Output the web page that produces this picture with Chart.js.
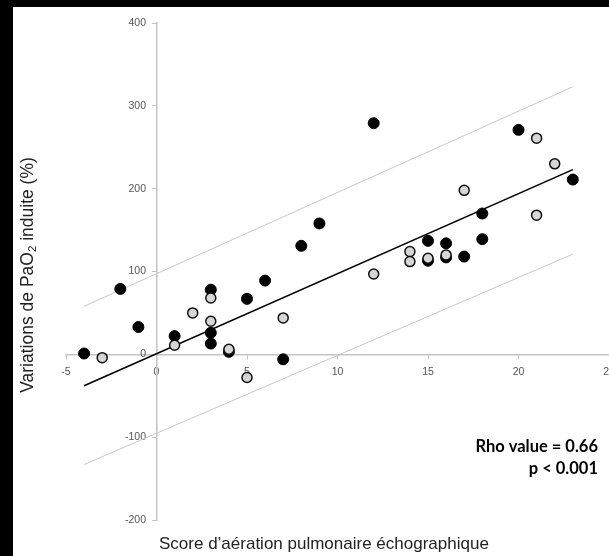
<!DOCTYPE html>
<html>
<head>
<meta charset="utf-8">
<script src="https://cdn.jsdelivr.net/npm/chart.js@4"></script>
<style>
  html, body { margin: 0; padding: 0; background: #000; overflow: hidden; }
  #wrap { position: absolute; left: 13px; top: 7px; width: 596px; height: 549px; background: #fff; }
</style>
</head>
<body>
<div id="wrap"><canvas id="chart" width="596" height="549"></canvas></div>
<script>
// filled (black) patients
const filledPoints = [
  { x: -4, y: 1 }, { x: -2, y: 79 }, { x: -1, y: 33 }, { x: 1, y: 22 },
  { x: 3, y: 78 }, { x: 3, y: 26 }, { x: 3, y: 13 }, { x: 4, y: 3 },
  { x: 5, y: 67 }, { x: 6, y: 89 }, { x: 7, y: -6 }, { x: 8, y: 131 },
  { x: 9, y: 158 }, { x: 12, y: 279 }, { x: 15, y: 137 }, { x: 15, y: 113 },
  { x: 16, y: 134 }, { x: 16, y: 117 }, { x: 17, y: 118 }, { x: 18, y: 170 },
  { x: 18, y: 139 }, { x: 20, y: 271 }, { x: 23, y: 211 },
];
// open (grey) patients
const openPoints = [
  { x: -3, y: -4 }, { x: 1, y: 11 }, { x: 2, y: 50 }, { x: 3, y: 68 },
  { x: 3, y: 40 }, { x: 4, y: 6 }, { x: 5, y: -28 }, { x: 7, y: 44 },
  { x: 12, y: 97 }, { x: 14, y: 124 }, { x: 14, y: 112 }, { x: 15, y: 116 },
  { x: 16, y: 120 }, { x: 17, y: 198 }, { x: 21, y: 261 }, { x: 21, y: 168 },
  { x: 22, y: 230 },
];
const fitLine = [{ x: -4, y: -38 }, { x: 23, y: 223 }];
const upperLimit = [{ x: -4, y: 58 }, { x: 23, y: 323 }];
const lowerLimit = [{ x: -4, y: -133 }, { x: 23, y: 121 }];

const xTicks = [-5, 0, 5, 10, 15, 20, 25];
const yTicks = [-200, -100, 0, 100, 200, 300, 400];

const AXIS = '#c4c4c4';
const TICK_FONT = { family: 'Liberation Sans', size: 10.5 };

// axis titles and the stats note
const textPlugin = {
  id: 'texts',
  afterDraw(chart) {
    const ctx = chart.ctx;
    ctx.save();
    ctx.fillStyle = '#222';

    // y title, rotated, with subscript 2
    const big = '17.5px "Liberation Sans"';
    const small = '11.5px "Liberation Sans"';
    const a = 'Variations de PaO', sub = '2', b = ' induite (%)';
    ctx.font = big;
    const wa = ctx.measureText(a).width, wb = ctx.measureText(b).width;
    ctx.font = small;
    const ws = ctx.measureText(sub).width;
    const total = wa + ws + wb;
    ctx.translate(15, 268);
    ctx.rotate(-Math.PI / 2);
    ctx.textBaseline = 'middle';
    ctx.textAlign = 'left';
    let x = -total / 2;
    ctx.font = big;
    ctx.fillText(a, x, 0);
    x += wa;
    ctx.font = small;
    ctx.fillText(sub, x, 5);
    x += ws;
    ctx.font = big;
    ctx.fillText(b, x, 0);
    ctx.restore();

    ctx.save();
    ctx.fillStyle = '#222';
    ctx.font = '17px "Liberation Sans"';
    ctx.textAlign = 'left';
    ctx.textBaseline = 'alphabetic';
    ctx.fillText('Score d\u2019aération pulmonaire échographique', 146, 542);

    ctx.fillStyle = '#000';
    ctx.font = 'bold 16.5px Lato';
    ctx.textAlign = 'right';
    ctx.textBaseline = 'middle';
    ctx.fillText('Rho value = 0.66', 585, 440);
    ctx.fillText('p < 0.001', 585, 462);
    ctx.restore();
  },
};

new Chart(document.getElementById('chart'), {
  type: 'scatter',
  data: {
    datasets: [
      { data: openPoints, pointRadius: 5, pointHoverRadius: 5, backgroundColor: '#d6d6d6', borderColor: '#111', borderWidth: 1.5, order: 1 },
      { data: filledPoints, pointRadius: 5.5, pointHoverRadius: 5.5, backgroundColor: '#000', borderColor: '#000', borderWidth: 1, order: 2 },
      { data: fitLine, showLine: true, pointRadius: 0, borderColor: '#000', borderWidth: 1.6, order: 3 },
      { data: upperLimit, showLine: true, pointRadius: 0, borderColor: '#c8c8c8', borderWidth: 1, order: 4 },
      { data: lowerLimit, showLine: true, pointRadius: 0, borderColor: '#c8c8c8', borderWidth: 1, order: 4 },
    ],
  },
  options: {
    responsive: false,
    animation: false,
    layout: { autoPadding: false, padding: { left: 53, right: 0, top: 16, bottom: 36 } },
    plugins: { legend: { display: false }, tooltip: { enabled: false } },
    scales: {
      x: {
        type: 'linear',
        min: -5,
        max: 25,
        position: { y: 0 },
        afterBuildTicks: s => { s.ticks = xTicks.map(v => ({ value: v })); },
        afterFit: s => { s.paddingLeft = 0; s.paddingRight = 0; },
        ticks: { font: TICK_FONT, color: '#555', padding: 7, maxRotation: 0, autoSkip: false },
        grid: { drawOnChartArea: false, tickLength: 4, color: AXIS, lineWidth: 1 },
        border: { color: AXIS, width: 1.5 },
      },
      y: {
        type: 'linear',
        min: -200,
        max: 400,
        position: { x: 0 },
        afterBuildTicks: s => { s.ticks = yTicks.map(v => ({ value: v })); },
        afterFit: s => { s.paddingTop = 0; s.paddingBottom = 0; },
        ticks: { font: TICK_FONT, color: '#555', autoSkip: false, callback: v => v + '\u2002\u2002' },
        grid: { drawOnChartArea: false, tickLength: 4, color: AXIS, lineWidth: 1 },
        border: { color: AXIS, width: 1.5 },
      },
    },
  },
  plugins: [textPlugin],
});
</script>
</body>
</html>
